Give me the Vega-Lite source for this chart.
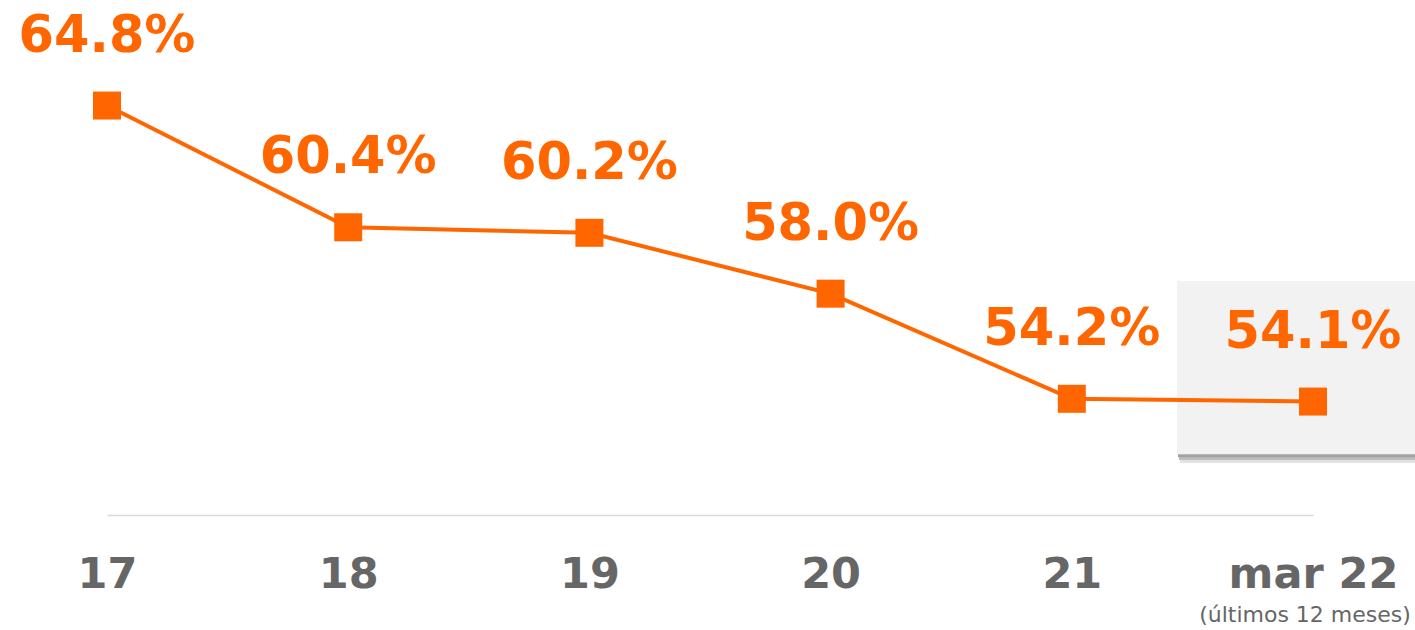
{
  "$schema": "https://vega.github.io/schema/vega-lite/v6.json",
  "autosize": "none",
  "width": 1206,
  "height": 415,
  "padding": {"left": 107, "top": 100, "right": 102, "bottom": 115},
  "background": "white",
  "config": {"view": {"stroke": null}},
  "data": {"values": [
    {"cat": "17", "value": 64.8, "label": "64.8%"},
    {"cat": "18", "value": 60.4, "label": "60.4%"},
    {"cat": "19", "value": 60.2, "label": "60.2%"},
    {"cat": "20", "value": 58.0, "label": "58.0%"},
    {"cat": "21", "value": 54.2, "label": "54.2%"},
    {"cat": "mar 22", "value": 54.1, "label": "54.1%"}
  ]},
  "encoding": {
    "x": {"field": "cat", "type": "ordinal", "sort": null,
      "scale": {"type": "point", "padding": 0, "domain": ["17", "18", "19", "20", "21", "mar 22"]},
      "axis": {"title": null, "labelAngle": 0, "ticks": false, "tickSize": 0, "grid": false,
        "domainColor": "#d9d9d9", "domainWidth": 1.5,
        "labelFont": "DejaVu Sans", "labelFontWeight": "bold", "labelFontSize": 43,
        "labelColor": "#666666", "labelBaseline": "alphabetic", "labelPadding": 72}},
    "y": {"field": "value", "type": "quantitative",
      "scale": {"domain": [50, 65], "zero": false, "nice": false}, "axis": null}
  },
  "layer": [
    {
      "transform": [{"filter": "datum.cat === 'mar 22'"}],
      "mark": {"type": "rect", "width": 266, "fill": "#e3e3e3"},
      "encoding": {"x": {"field": "cat", "type": "ordinal", "sort": null, "bandPosition": 0}, "y": {"datum": 58.2}, "y2": {"datum": 51.88}}
    },
    {
      "transform": [{"filter": "datum.cat === 'mar 22'"}],
      "mark": {"type": "rect", "width": 268, "fill": "#bdbdbd"},
      "encoding": {"y": {"datum": 58.3}, "y2": {"datum": 51.99}}
    },
    {
      "transform": [{"filter": "datum.cat === 'mar 22'"}],
      "mark": {"type": "rect", "width": 270, "fill": "#a3a3a3"},
      "encoding": {"y": {"datum": 58.4}, "y2": {"datum": 52.09}}
    },
    {
      "transform": [{"filter": "datum.cat === 'mar 22'"}],
      "mark": {"type": "rect", "width": 272, "fill": "#f2f2f2"},
      "encoding": {"y": {"datum": 58.46}, "y2": {"datum": 52.2}}
    },
    {
      "mark": {"type": "line", "color": "#ff6600", "strokeWidth": 4},
      "encoding": {}
    },
    {
      "mark": {"type": "point", "shape": "square", "filled": true, "size": 784, "color": "#ff6600", "opacity": 1},
      "encoding": {}
    },
    {
      "mark": {"type": "text", "font": "DejaVu Sans", "fontWeight": "bold", "fontSize": 51,
        "color": "#ff6600", "baseline": "alphabetic", "align": "center", "dy": -54},
      "encoding": {"text": {"field": "label"}}
    },
    {
      "transform": [{"filter": "datum.cat === 'mar 22'"}],
      "mark": {"type": "text", "font": "DejaVu Sans", "fontSize": 22, "color": "#666666",
        "baseline": "alphabetic", "align": "center", "dx": -8, "dy": 107},
      "encoding": {"y": {"datum": 50}, "text": {"value": "(últimos 12 meses)"}}
    }
  ]
}
